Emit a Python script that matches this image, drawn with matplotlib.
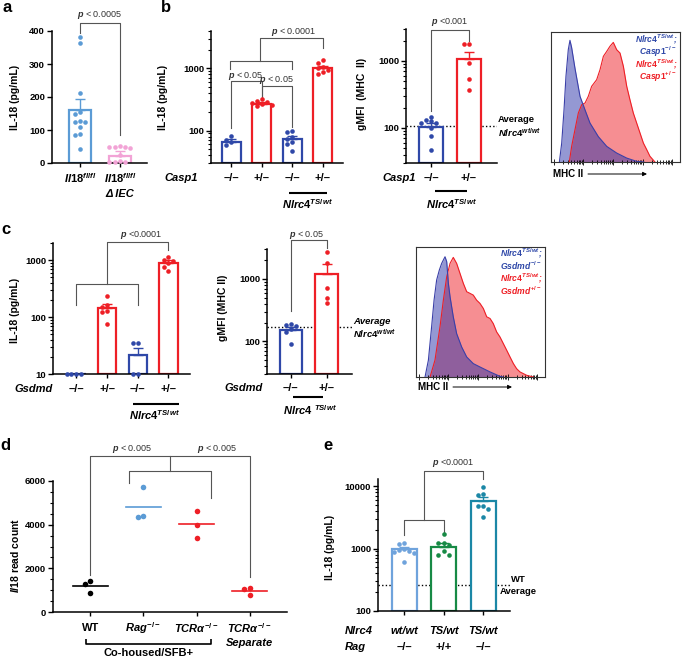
import numpy as np
import matplotlib
matplotlib.use("Agg")
import matplotlib.pyplot as plt
from matplotlib import transforms
from matplotlib.ticker import LogLocator, NullFormatter, MultipleLocator

plt.rcParams["font.family"] = ["Liberation Sans", "DejaVu Sans"]
plt.rcParams["font.weight"] = "bold"
plt.rcParams["mathtext.fontset"] = "custom"
plt.rcParams["mathtext.rm"] = "Liberation Sans:bold"
plt.rcParams["mathtext.it"] = "Liberation Sans:italic:bold"
plt.rcParams["mathtext.bf"] = "Liberation Sans:bold"
plt.rcParams["mathtext.sf"] = "Liberation Sans:italic"

# ---------------- data ----------------
# a: IL-18, Il18 fl/fl vs dIEC
a_means = [162, 22]
a_tops = [193, 35]
a_pts = [[381, 365, 212, 156, 149, 126, 123, 123, 109, 87, 84, 42],
         [52, 48, 47, 47, 46, 25, 5, 4, 4, 3]]

# b1: IL-18, Casp1 -/- +/- -/- +/-
b1_means = [66, 266, 73, 1000]
b1_tops = [72, 285, 82, 1080]
b1_pts = [[82, 71, 66, 59],
          [316, 300, 292, 280, 265, 258, 250],
          [100, 95, 79, 72, 66, 60, 47],
          [1360, 1200, 1050, 1000, 940, 880, 810]]
b1_ticks = ["–/–", "+/–", "–/–", "+/–"]

# b2: gMFI MHC II
b2_means = [102, 1060]
b2_tops = [119, 1345]
b2_pts = [[146, 130, 125, 120, 118, 100, 75, 47],
          [1820, 1780, 930, 540, 370]]
b2_avg = 108

# c1: IL-18, Gsdmd
c1_means = [10, 146, 22, 880]
c1_tops = [10, 170, 29, 990]
c1_pts = [[10, 10, 10, 10],
          [230, 165, 150, 130, 125, 75],
          [35, 35, 10, 10],
          [1120, 1000, 950, 900, 760, 650]]

# c2: gMFI MHC II, Gsdmd
c2_means = [153, 1200]
c2_tops = [170, 1725]
c2_pts = [[190, 185, 179, 158, 140, 90],
          [2670, 1800, 720, 500, 408]]
c2_avg = 168

# histograms (channel %, count % of box)
b3_blue_x = [6.5, 8.3, 10.1, 11.6, 13.4, 14.7, 16.0, 18.6, 22.5, 26.4, 30.2, 36.7, 43.2, 50.9, 58.7, 66.4, 72]
b3_blue_y = [0, 14.6, 40.3, 65.9, 86.4, 93.6, 88, 72, 50.5, 40, 30, 19.5, 12, 6.9, 3, 0.5, 0]
b3_red_x = [14.2, 16.0, 18.6, 21.2, 23.8, 26.4, 28.9, 31.5, 35.4, 38, 40.6, 43.2, 45.7, 48.3, 50.9,
            53.5, 56.1, 58.7, 61.2, 63.8, 66.4, 69, 71.6, 74.2, 76.7, 80.6]
b3_red_y = [0, 12, 24.9, 37.7, 44.1, 45.4, 50.5, 58.2, 63.3, 71, 81.3, 85.1, 89, 92, 86.4,
            83.8, 73.6, 58.2, 47.9, 37.7, 30, 22.3, 14.6, 9.5, 4.4, 0]

c3_blue_x = [7, 9.6, 12.1, 14, 16, 18.1, 19.9, 22.5, 23.8, 25.1, 26.4, 28.9, 31.5, 35.4, 39.3,
             44.4, 49.6, 57.4, 65.1, 67.7]
c3_blue_y = [0, 12.9, 38.6, 59.1, 74.6, 82.3, 87.4, 92.5, 88.7, 72, 61.7, 46.3, 33.4, 23.1, 15.4,
             10.3, 7.7, 3.9, 0.5, 0]
c3_red_x = [10.9, 14.7, 18.6, 21.2, 23.8, 26.4, 28.9, 31.5, 34.1, 36.7, 39.3, 41.9, 44.4, 47, 49.6,
            52.2, 54.8, 57.4, 59.9, 62.5, 65.1, 67.7, 70.3, 72.9, 75.5, 78, 80.6, 85.8, 91]
c3_red_y = [0, 12.9, 38.6, 59.1, 77.1, 87.4, 92, 87.4, 79.7, 72, 65.6, 64.3, 63, 59.1, 56.6,
            52.7, 46.3, 45, 41.1, 34.7, 30.8, 25.7, 20.6, 15.4, 10.3, 6.4, 3.9, 1.3, 0]

# d: Il18 read count
d_pts = [[1400, 1295, 883],
         [5707, 4417, 4341],
         [4646, 3991, 3397],
         [1112, 1036, 777]]

# e: IL-18, Nlrc4 / Rag
e_means = [1000, 1070, 5800]
e_tops = [1070, 1240, 6750]
e_pts = [[1210, 1180, 990, 960, 900, 870, 840, 615],
         [1690, 1210, 1210, 1150, 920, 790, 790],
         [9540, 7600, 7130, 4790, 4790, 4240, 3220]]
e_avg = 260
e_row1 = ["wt/wt", "TS/wt", "TS/wt"]
e_row2 = ["–/–", "+/+", "–/–"]

# ---------------- style ----------------
BLUE = "#2f48a8"
RED = "#ee1f26"
LBLUE = "#5b9bd5"
PINK = "#f2a3d6"
GREEN = "#178a45"
TEAL = "#1b87a6"
BR = "#555555"

W, H = 685, 658
fig = plt.figure(figsize=(W / 100, H / 100), dpi=100)


def add_ax(l, t, r, b):
    return fig.add_axes([l / W, 1 - b / H, (r - l) / W, (b - t) / H])


def ftext(x, y, s, **kw):
    kw.setdefault("ha", "center")
    kw.setdefault("va", "center")
    fig.text(x / W, 1 - y / H, s, **kw)


def style(ax, log=False, ticks=None):
    for s in ["top", "right"]:
        ax.spines[s].set_visible(False)
    for s in ["left", "bottom"]:
        ax.spines[s].set_linewidth(1.1)
    if log:
        ax.set_yscale("log")
        ax.yaxis.set_minor_locator(LogLocator(base=10, subs=np.arange(2, 10)))
        ax.yaxis.set_minor_formatter(NullFormatter())
    if ticks is not None:
        ax.set_yticks(ticks, [str(t) for t in ticks])
    ax.tick_params(axis="y", which="major", length=3.5, width=1, labelsize=6.8, pad=1.5)
    ax.tick_params(axis="y", which="minor", length=2, width=0.8)
    ax.tick_params(axis="x", length=3, width=1, labelbottom=False)


def swarm(vals, ppu, log, step, gap=4.5):
    v = np.asarray(vals, float)
    y = np.log10(v) * ppu if log else v * ppu
    order = np.argsort(-y)
    offs = np.zeros(len(v))
    done = []
    for i in order:
        for k in [0, -1, 1, -2, 2, -3, 3]:
            if all(abs(y[i] - y[j]) >= gap or abs(k * step - offs[j]) >= step * 0.9 for j in done):
                offs[i] = k * step
                break
        done.append(i)
    return offs


def bars(ax, means, tops, pts, cols, base, width, ppu, log, step):
    ax.set_xticks(range(len(means)))
    for i, (m, t, p, c) in enumerate(zip(means, tops, pts, cols)):
        ax.bar(i, m - base, bottom=base, width=width, facecolor="white",
               edgecolor=c, lw=1.6, zorder=2)
        if t > m:
            ax.errorbar(i, m, yerr=[[0], [t - m]], fmt="none", ecolor=c,
                        elinewidth=1, capsize=3.5, capthick=1, zorder=3)
        offs = swarm(p, ppu, log, step)
        ax.plot(i + offs, p, "o", ms=3.3, color=c, mec="none", zorder=4, clip_on=False)


def path(ax, xs, ys):
    ax.plot(xs, ys, color=BR, lw=0.8, clip_on=False, zorder=1)


def ptext(ax, x, y, s):
    ax.text(x, y, r"$\mathsf{p}$" + s, ha="center", va="center", fontsize=6.5,
            fontweight="normal", color="#333333", clip_on=False)


def xrow(ax, xs, labels, ypx, **kw):
    tr = transforms.blended_transform_factory(ax.transData, fig.transFigure)
    kw.setdefault("fontsize", 8)
    for x, s in zip(xs, labels):
        ax.text(x, 1 - ypx / H, s, transform=tr, ha="center", va="center", clip_on=False, **kw)


def xline(ax, xs, ypxs, lw=1.5):
    tr = transforms.blended_transform_factory(ax.transData, fig.transFigure)
    ax.plot(xs, [1 - y / H for y in ypxs], transform=tr, color="black", lw=lw,
            clip_on=False, solid_capstyle="butt")


def hist(ax, bx, by, rx, ry, leg_blue, leg_red, xr, ytop):
    ax.fill_between(rx, ry, color="#ee1f26", alpha=0.5, lw=0)
    ax.fill_between(bx, by, color="#2a32a8", alpha=0.5, lw=0)
    ax.plot(rx, ry, color=RED, lw=0.8)
    ax.plot(bx, by, color="#3a3fa8", lw=0.8)
    ax.set_xlim(0, 100)
    ax.set_ylim(0, 100)
    ax.set_yticks([])
    dec = [2, 25, 48, 71, 94]
    ax.set_xticks(dec)
    ax.set_xticks([d + 23 * np.log10(k) for d in dec[:-1] for k in range(2, 10)], minor=True)
    ax.tick_params(axis="x", which="both", direction="inout", labelbottom=False, width=0.6)
    ax.tick_params(axis="x", which="major", length=4)
    ax.tick_params(axis="x", which="minor", length=2.5)
    for s in ax.spines.values():
        s.set_linewidth(0.8)
        s.set_color("#333333")
    for k, (s, c) in enumerate([(leg_blue[0], BLUE), (leg_blue[1], BLUE),
                                (leg_red[0], RED), (leg_red[1], RED)]):
        ftext(xr, ytop + 12.6 * k, s, ha="right", color=c, fontsize=6.2, style="italic")


NLRC_TS = r"$\mathit{Nlrc4}^{\mathit{TS/wt}}$"
NLRC_WT = r"$\mathit{Nlrc4}^{\mathit{wt/wt}}$"

# ---------------- panel a ----------------
ax = add_ax(52, 31, 147, 163)
style(ax, ticks=[0, 100, 200, 300, 400])
ax.set_xlim(-0.7, 1.68)
ax.set_ylim(0, 400)
bars(ax, a_means, a_tops, a_pts, [LBLUE, PINK], 0, 0.55, 132 / 400, False, 0.13)
path(ax, [0, 0, 1, 1], [394, 424, 424, 85])
ptext(ax, 0.5, 448, " < 0.0005")
xrow(ax, [0, 1], [r"$\mathit{Il18}^{\mathit{fl/fl}}$"] * 2, 178)
xrow(ax, [1], ["Δ IEC"], 194, style="italic")
ftext(15, 97, "IL-18 (pg/mL)", rotation=90, fontsize=7.5)
ftext(7, 7, "a", fontsize=12)

# ---------------- panel b1 ----------------
ax = add_ax(211, 31, 343, 163)
style(ax, log=True, ticks=[100, 1000])
ax.set_xlim(-0.66, 3.66)
ax.set_ylim(30, 4000)
bars(ax, b1_means, b1_tops, b1_pts, [BLUE, RED, BLUE, RED], 30, 0.63, 62, True, 0.16)
path(ax, [0, 0, 1, 1], [108, 625, 625, 350])
path(ax, [1, 1, 2, 2], [350, 519, 519, 112])
path(ax, [-0.05, -0.05, 2, 2], [963, 1313, 1313, 963])
path(ax, [0.95, 0.95, 3, 3], [1313, 3048, 3048, 2103])
ptext(ax, 0.47, 752, " < 0.05")
ptext(ax, 1.5, 648, " < 0.05")
ptext(ax, 2.05, 3890, " < 0.0001")
xrow(ax, range(4), b1_ticks, 178)
ftext(198, 178, "Casp1", ha="right", fontsize=8, style="italic")
xline(ax, [1.9, 3.12], [193, 193])
xrow(ax, [2.5], [NLRC_TS], 204)
ftext(163, 97, "IL-18 (pg/mL)", rotation=90, fontsize=7.5)
ftext(166, 7, "b", fontsize=12)

# ---------------- panel b2 ----------------
ax = add_ax(406, 29, 497, 163)
style(ax, log=True, ticks=[100, 1000])
ax.set_xlim(-0.66, 1.74)
ax.set_ylim(30, 3000)
bars(ax, b2_means, b2_tops, b2_pts, [BLUE, RED], 30, 0.62, 67, True, 0.13)
ax.axhline(b2_avg, color="black", lw=1, ls=(0, (1, 1.6)), zorder=1)
path(ax, [0, 0, 1, 1], [177, 2900, 2900, 2000])
ptext(ax, 0.5, 3800, " <0.001")
xrow(ax, range(2), ["–/–", "+/–"], 178)
ftext(416, 178, "Casp1", ha="right", fontsize=8, style="italic")
xline(ax, [0.1, 0.95], [191, 191])
xrow(ax, [0.55], [NLRC_TS], 204)
ftext(498, 120, "Average", ha="left", fontsize=6.8)
ftext(498, 133, NLRC_WT, ha="left", fontsize=6.8)
ftext(362, 94, "gMFI  (MHC  II)", rotation=90, fontsize=7.5)

# ---------------- panel b3 ----------------
ax = add_ax(551, 32, 680, 162)
hist(ax, b3_blue_x, b3_blue_y, b3_red_x, b3_red_y,
     [NLRC_TS + ";", r"$\mathit{Casp1}^{\mathit{-/-}}$"],
     [NLRC_TS + ";", r"$\mathit{Casp1}^{\mathit{+/-}}$"], 677, 39)
ftext(553, 174, "MHC II", ha="left", fontsize=7)
ax.annotate("", xy=(647 / W, 1 - 174 / H), xytext=(588 / W, 1 - 174 / H),
            xycoords="figure fraction", textcoords="figure fraction", annotation_clip=False,
            arrowprops=dict(arrowstyle="-|>", lw=0.7, color="black", mutation_scale=6,
                            shrinkA=0, shrinkB=0))

# ---------------- panel c1 ----------------
ax = add_ax(53, 243, 190, 374)
style(ax, log=True, ticks=[10, 100, 1000])
ax.set_xlim(-0.76, 3.7)
ax.set_ylim(10, 2000)
bars(ax, c1_means, c1_tops, c1_pts, [BLUE, RED, BLUE, RED], 10, 0.6, 57.7, True, 0.16)
path(ax, [0, 0, 2, 2], [160, 384, 384, 160])
path(ax, [1, 1, 3, 3], [384, 2075, 2075, 1490])
ptext(ax, 2.1, 2710, " <0.0001")
xrow(ax, range(4), b1_ticks, 389)
ftext(53, 389, "Gsdmd", ha="right", fontsize=8, style="italic")
xline(ax, [1.85, 3.33], [404, 404])
xrow(ax, [2.54], [NLRC_TS], 415)
ftext(15, 310, "IL-18 (pg/mL)", rotation=90, fontsize=7.5)
ftext(6, 229, "c", fontsize=12)

# ---------------- panel c2 ----------------
ax = add_ax(267, 249, 352, 374)
style(ax, log=True, ticks=[100, 1000])
ax.set_xlim(-0.67, 1.71)
ax.set_ylim(30, 3000)
bars(ax, c2_means, c2_tops, c2_pts, [BLUE, RED], 30, 0.64, 63, True, 0.14)
ax.axhline(c2_avg, color="black", lw=1, ls=(0, (1, 1.6)), zorder=1)
path(ax, [0, 0, 1, 1], [309, 4170, 4170, 3087])
ptext(ax, 0.45, 5000, " < 0.05")
xrow(ax, range(2), ["–/–", "+/–"], 388)
ftext(263, 388, "Gsdmd", ha="right", fontsize=8, style="italic")
xline(ax, [0.06, 0.9], [397, 397])
xrow(ax, [0.53], [r"$\mathit{Nlrc4}$ $^{\mathit{TS/wt}}$"], 410)
ftext(353, 322, "Average", ha="left", fontsize=6.8, style="italic")
ftext(353, 334, NLRC_WT, ha="left", fontsize=6.8)
ftext(223, 308, "gMFI (MHC II)", rotation=90, fontsize=7.5)

# ---------------- panel c3 ----------------
ax = add_ax(416, 247, 545, 377)
hist(ax, c3_blue_x, c3_blue_y, c3_red_x, c3_red_y,
     [NLRC_TS + ";", r"$\mathit{Gsdmd}^{\mathit{-/-}}$"],
     [NLRC_TS + ";", r"$\mathit{Gsdmd}^{\mathit{+/-}}$"], 542, 253)
ftext(418, 387, "MHC II", ha="left", fontsize=7)
ax.annotate("", xy=(512 / W, 1 - 387 / H), xytext=(453 / W, 1 - 387 / H),
            xycoords="figure fraction", textcoords="figure fraction", annotation_clip=False,
            arrowprops=dict(arrowstyle="-|>", lw=0.7, color="black", mutation_scale=6,
                            shrinkA=0, shrinkB=0))

# ---------------- panel d ----------------
ax = add_ax(53, 481, 287, 612)
style(ax, ticks=[0, 2000, 4000, 6000])
ax.yaxis.set_minor_locator(MultipleLocator(500))
ax.set_xlim(-0.7, 3.7)
ax.set_ylim(0, 6000)
ax.set_xticks(range(4))
d_cols = ["black", LBLUE, RED, RED]
for i, (p, c) in enumerate(zip(d_pts, d_cols)):
    m = np.mean(p)
    ax.plot([i - 0.33, i + 0.33], [m, m], color=c, lw=1.2, zorder=2)
    ax.plot(i + swarm(p, 131 / 6000, False, 0.1), p, "o", ms=4, color=c, mec="none", zorder=3)
path(ax, [0, 0, 3, 3], [1680, 7126, 7126, 1600])
path(ax, [0.72, 0.72, 2.28, 2.28], [5900, 6439, 6439, 5200])
path(ax, [1.5, 1.5], [6439, 7126])
ptext(ax, 0.79, 7446, " < 0.005")
ptext(ax, 2.38, 7446, " < 0.005")
xrow(ax, range(4), ["WT", r"$\mathit{Rag}^{\mathit{-/-}}$",
                    r"$\mathit{TCRα}^{\mathit{-/-}}$", r"$\mathit{TCRα}^{\mathit{-/-}}$"], 628)
xrow(ax, [3], ["Separate"], 643, style="italic")
xline(ax, [-0.08, -0.08, 2.27, 2.27], [639, 644, 644, 639], lw=1.2)
xrow(ax, [1.09], ["Co-housed/SFB+"], 653)
ftext(15, 555, r"$\mathit{Il18}$ read count", rotation=90, fontsize=7.5)
ftext(5, 446, "d", fontsize=12)

# ---------------- panel e ----------------
ax = add_ax(378, 479, 510, 611)
style(ax, log=True, ticks=[100, 1000, 10000])
ax.set_xlim(-0.66, 2.68)
ax.set_ylim(100, 13000)
bars(ax, e_means, e_tops, e_pts, ["#6fa3dc", GREEN, TEAL], 100, 0.63, 62.5, True, 0.13)
ax.axhline(e_avg, color="black", lw=1, ls=(0, (1, 1.6)), zorder=1)
path(ax, [0, 0, 1, 1], [1644, 2858, 2858, 1858])
path(ax, [0.5, 0.5, 2, 2], [2858, 17580, 17580, 12790])
ptext(ax, 1.24, 23330, " <0.0001")
xrow(ax, range(3), e_row1, 631, style="italic")
xrow(ax, range(3), e_row2, 647)
ftext(345, 631, "Nlrc4", ha="left", fontsize=8, style="italic")
ftext(345, 647, "Rag", ha="left", fontsize=8, style="italic")
ftext(518, 580, "WT", fontsize=6.8)
ftext(518, 592, "Average", fontsize=6.8)
ftext(330, 547, "IL-18 (pg/mL)", rotation=90, fontsize=7.5)
ftext(328, 446, "e", fontsize=12)

fig.savefig("out.png", dpi=100)
